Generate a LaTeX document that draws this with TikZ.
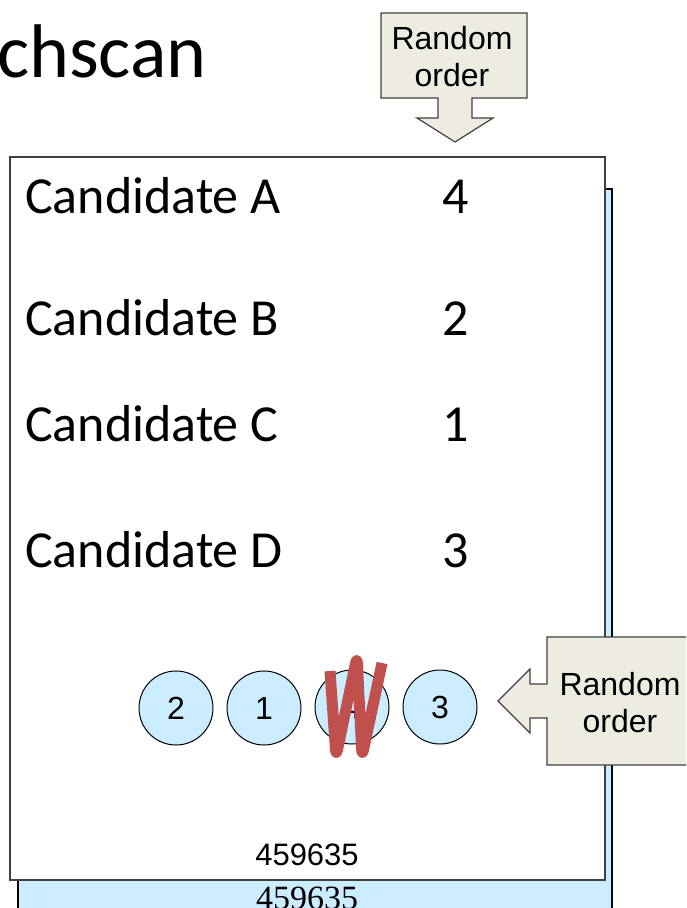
\documentclass[tikz,border=0pt]{standalone}
\usepackage{fontspec}
\setmainfont{Carlito}
\newfontfamily\arialf{Liberation Sans}
\newfontfamily\timesf{Liberation Serif}
\definecolor{boxblue}{RGB}{204,236,255}
\definecolor{calloutfill}{RGB}{238,236,225}
\definecolor{scribble}{RGB}{192,80,77}
\definecolor{edgegray}{RGB}{64,64,64}
\begin{document}
\begin{tikzpicture}[x=1pt,y=-1pt,
  cand/.style={anchor=base west,inner sep=0pt,font=\fontsize{52}{60}\selectfont},
  rank/.style={anchor=base,inner sep=0pt,font=\fontsize{52}{60}\selectfont},
  bubble/.style={circle,draw=black,line width=1pt,fill=boxblue,minimum size=74pt,inner sep=0pt,font=\arialf\fontsize{32}{36}\selectfont},
  callout/.style={draw=edgegray,line width=1.2pt,fill=calloutfill,line join=miter},
  callouttext/.style={align=center,inner sep=0pt,font=\arialf\fontsize{32}{37}\selectfont}]
\useasboundingbox (0,0) rectangle (686,908);
\clip (0,0) rectangle (686,908);
% title
\node[anchor=base west,inner sep=0pt,font=\fontsize{76}{90}\selectfont] (title) at (-3,77) {chscan};
% back ballot (blue)
\draw[fill=boxblue,draw=black,line width=1.5pt] (18,189) rectangle (612,930);
\node[anchor=base,inner sep=0pt,font=\timesf\fontsize{34}{40}\selectfont] (serialb) at (307,909) {459635};
% front ballot (white)
\draw[fill=white,draw=edgegray,line width=2pt] (10,157) rectangle (605,880);
\node[cand] (ca) at (25,213) {Candidate A};
\node[cand] (cb) at (25,335) {Candidate B};
\node[cand] (cc) at (25,441) {Candidate C};
\node[cand] (cd) at (25,567) {Candidate D};
\node[rank] (ra) at (456,213) {4};
\node[rank] (rb) at (456,335) {2};
\node[rank] (rc) at (456,441) {1};
\node[rank] (rd) at (456,567) {3};
\node[anchor=base,inner sep=0pt,font=\arialf\fontsize{31}{36}\selectfont] (serialw) at (307,865) {459635};
% bubbles
\node[bubble] (b1) at (176,708) {2};
\node[bubble] (b2) at (264,708) {1};
\node[bubble] (b3) at (352,707) {4};
\node[bubble] (b4) at (440,707) {3};
% scribble
\draw[scribble,line width=11pt,line cap=butt,line join=round,rounded corners=8pt]
  (330,671) -- (336,757) -- (357,656) -- (362,757) -- (382,663);
% top callout
\draw[callout] (381,13) -- (527,13) -- (527,98) -- (472,98) -- (472,118) -- (493,118)
  -- (455,142) -- (417,118) -- (438,118) -- (438,98) -- (381,98) -- cycle;
\node[callouttext] (topcall) at (452,57) {Random\\order};
% right callout
\draw[callout] (700,637) -- (547,637) -- (547,684) -- (530,684) -- (530,669) -- (498,701)
  -- (530,733) -- (530,718) -- (547,718) -- (547,765) -- (700,765);
\node[callouttext] (rightcall) at (620,703) {Random\\order};
\end{tikzpicture}
\end{document}
